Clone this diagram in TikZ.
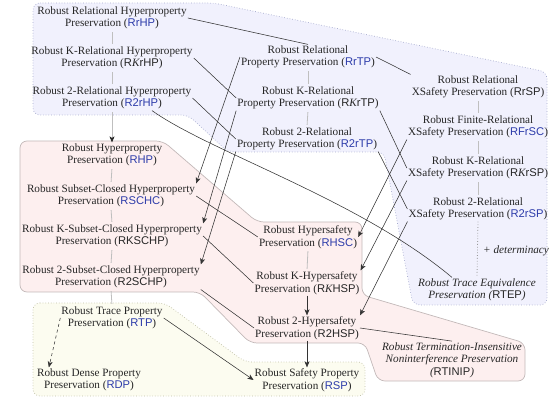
\documentclass[tikz,border=0pt]{standalone}
\usepackage{fontspec}
\setmainfont{Liberation Serif}
\setsansfont{Liberation Sans}
\usetikzlibrary{arrows.meta}

\definecolor{acrblue}{RGB}{45,60,170}
\definecolor{bluefill}{RGB}{241,241,253}
\definecolor{blueedge}{RGB}{165,170,205}
\definecolor{pinkfill}{RGB}{253,239,239}
\definecolor{pinkedge}{RGB}{195,185,185}
\definecolor{yelfill}{RGB}{252,252,240}
\definecolor{yeledge}{RGB}{190,190,165}

% acronyms: sans, upright; blue ones are highlighted
\newcommand{\acr}[1]{\textsf{\upshape #1}}
\newcommand{\bacr}[1]{\textcolor{acrblue}{\acr{#1}}}
\newcommand{\kk}{{\rmfamily\itshape K}}

\begin{document}
\begin{tikzpicture}[x=1pt,y=-1pt,
  nd/.style={align=center, inner sep=1pt, text=black!85,
    font=\fontsize{11.2}{12.6}\selectfont},
  ndit/.style={nd, font=\fontsize{11.2}{12.6}\selectfont\itshape},
  link/.style={draw=black!80, line width=0.55pt},
  arr/.style={link, -{Stealth[length=6pt,width=5pt,inset=1.5pt]}},
  sep/.style={draw=black!25, line width=0.8pt, shorten <=1.5pt, shorten >=1.5pt},
]
\useasboundingbox (0,0) rectangle (552,398);

% regions
\path[fill=bluefill, draw=blueedge, dotted, line width=0.7pt, rounded corners=7pt]
  (33,3) -- (214,3) -- (547,72) -- (547,305) -- (413,305) -- (384,152)
  -- (228,152) -- (188,115) -- (33,115) -- cycle;
\path[fill=pinkfill, draw=pinkedge, line width=0.7pt, rounded corners=7pt]
  (20,141) -- (163,141) -- (257,222) -- (362,222) -- (362,295) -- (525,343)
  -- (525,381) -- (378,381) -- (365,343) -- (250,343) -- (200,292) -- (20,292) -- cycle;
\path[fill=yelfill, draw=yeledge, dotted, line width=0.7pt, rounded corners=7pt]
  (33,303) -- (165,303) -- (245,362) -- (365,362) -- (365,396) -- (33,396) -- cycle;

% relational hyperproperties
\node[nd] (RrHP)  at (112,18) {Robust Relational Hyperproperty\\Preservation (\bacr{RrHP})};
\node[nd] (RKrHP) at (112,58) {Robust K-Relational Hyperproperty\\Preservation (\acr{R\kk rHP})};
\node[nd] (R2rHP) at (112,98) {Robust 2-Relational Hyperproperty\\Preservation (\bacr{R2rHP})};
% relational properties
\node[nd] (RrTP)  at (308,57)  {Robust Relational\\Property Preservation (\bacr{RrTP})};
\node[nd] (RKrTP) at (308,98)  {Robust K-Relational\\Property Preservation (\acr{R\kk rTP})};
\node[nd] (R2rTP) at (307,139) {Robust 2-Relational\\Property Preservation (\bacr{R2rTP})};
% relational safety
\node[nd] (RrSP)  at (478,87)  {Robust Relational\\XSafety Preservation (\acr{RrSP})};
\node[nd] (RFrSC) at (478,127) {Robust Finite-Relational\\XSafety Preservation (\bacr{RFrSC})};
\node[nd] (RKrSP) at (478,168) {Robust K-Relational\\XSafety Preservation (\acr{R\kk rSP})};
\node[nd] (R2rSP) at (478,209) {Robust 2-Relational\\XSafety Preservation (\bacr{R2rSP})};
\node[ndit] (RTEP) at (477,290) {Robust Trace Equivalence\\Preservation (\acr{RTEP})};
\node[ndit, anchor=west] (det) at (482,251) {+ determinacy};
% hyperproperties
\node[nd] (RHP)    at (112,155) {Robust Hyperproperty\\Preservation (\bacr{RHP})};
\node[nd] (RSCHC)  at (111,196) {Robust Subset-Closed Hyperproperty\\Preservation (\bacr{RSCHC})};
\node[nd] (RKSCHP) at (112,236) {Robust K-Subset-Closed Hyperproperty\\Preservation (\acr{RKSCHP})};
\node[nd] (R2SCHP) at (111,277) {Robust 2-Subset-Closed Hyperproperty\\Preservation (\acr{R2SCHP})};
% hypersafety
\node[nd] (RHSC)  at (308,237) {Robust Hypersafety\\Preservation (\bacr{RHSC})};
\node[nd] (RKHSP) at (307,283) {Robust K-Hypersafety\\Preservation (\acr{R\kk HSP})};
\node[nd] (R2HSP) at (307,328) {Robust 2-Hypersafety\\Preservation (\acr{R2HSP})};
\node[ndit] (RTINIP) at (452,360) {Robust Termination-Insensitive\\Noninterference Preservation\\(\acr{RTINIP})};
% trace properties
\node[nd] (RTP) at (112,318) {Robust Trace Property\\Preservation (\bacr{RTP})};
\node[nd] (RDP) at (89,380)  {Robust Dense Property\\Preservation (\bacr{RDP})};
\node[nd] (RSP) at (307,380) {Robust Safety Property\\Preservation (\bacr{RSP})};

% chains inside each column
\draw[sep] (RrHP.south) -- (RKrHP.north);
\draw[sep] (RKrHP.south) -- (R2rHP.north);
\draw[sep] (RrTP.south) -- (RKrTP.north);
\draw[sep] (RKrTP.south) -- (R2rTP.north);
\draw[sep] (RrSP.south) -- (RFrSC.north);
\draw[sep] (RFrSC.south) -- (RKrSP.north);
\draw[sep] (RKrSP.south) -- (R2rSP.north);
\draw[sep] (RHP.south) -- (RSCHC.north);
\draw[sep] (RSCHC.south) -- (RKSCHP.north);
\draw[sep] (RKSCHP.south) -- (R2SCHP.north);
\draw[sep] (RHSC.south) -- (RKHSP.north);
\draw[sep] (R2SCHP.south) -- (RTP.north);
\draw[sep, shorten >=0pt, -{Stealth[length=6pt,width=5pt,inset=1.5pt,color=black!85]}]
  (R2rHP.south) -- (RHP.north);
\draw[arr] (RKHSP.south) -- (R2HSP.north);
\draw[arr] (R2HSP.south) -- (RSP.north);
\draw[draw=black!40, dotted, line width=0.8pt] (R2rSP.south) -- (RTEP.north);

% across columns
\draw[link] (RrHP.east) -- (RrTP.north);
\draw[link] (RrTP.east) -- (RrSP.north west);
\draw[link] (RKrHP.east) -- (RKrTP.west);
\draw[link] (R2rHP.east) -- (R2rTP.west);
\draw[link] (RKrTP.south east) -- (RKrSP.west);
\draw[link] (R2rTP.south east) -- (R2rSP.west);
\draw[link] ([xshift=40pt]R2rHP.south) .. controls (210,152) and (360,200) .. ([xshift=-25pt]RTEP.north);

\draw[arr] (RrTP.west) -- (RSCHC.north east);
\draw[arr] (RKrTP.south west) -- (RKSCHP.north east);
\draw[arr] (R2rTP.south west) -- (R2SCHP.north east);

\draw[link] (RSCHC.east) -- (RHSC.west);
\draw[link] (RKSCHP.east) -- (RKHSP.west);
\draw[link] (R2SCHP.south east) -- (R2HSP.west);

\draw[arr] (RFrSC.south west) -- (RHSC.east);
\draw[arr] (RKrSP.south west) -- (RKHSP.north east);
\draw[arr] (R2rSP.south west) -- (R2HSP.north east);
\draw[link] (R2HSP.east) -- (RTINIP.north);

\draw[arr, dashed] (RTP.west) -- ([xshift=13pt]RDP.north west);
\draw[arr] (RTP.east) -- (RSP.west);
\end{tikzpicture}
\end{document}
